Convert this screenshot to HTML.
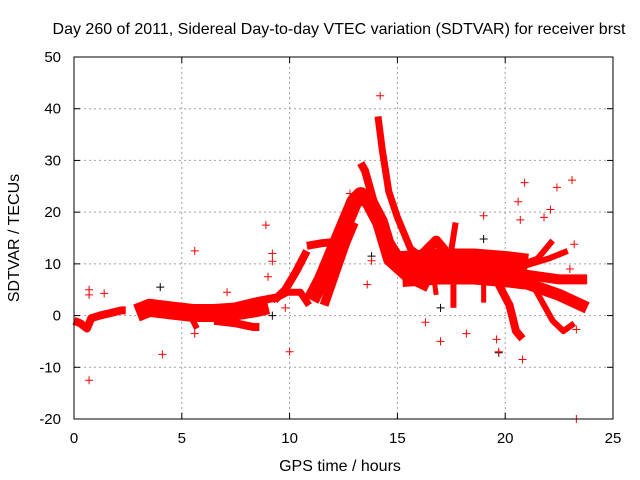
<!DOCTYPE html>
<html><head><meta charset="utf-8"><style>
body{margin:0;background:#fff;}
svg{display:block;font-family:"Liberation Sans",sans-serif;}
</style></head><body>
<svg id="chart" width="640" height="480">
<text x="339" y="34" text-anchor="middle" font-size="16">Day 260 of 2011, Sidereal Day-to-day VTEC variation (SDTVAR) for receiver brst</text>
<text x="340" y="471" text-anchor="middle" font-size="16">GPS time / hours</text>
<text transform="translate(19,238) rotate(-90)" text-anchor="middle" font-size="16">SDTVAR / TECUs</text>
<g id="grid"></g>
<g id="ticks"></g>
<g id="tracks"></g>
<g id="points"></g>
<rect x="74" y="57" width="539" height="362" fill="none" stroke="#000" stroke-width="1"/>
</svg>
<script>
const xTicks=[0,5,10,15,20,25];
const yTicks=[-20,-10,0,10,20,30,40,50];
const tracks=[
[[0,-1],[0.3,-1.5],[0.6,-2.5],[0.8,-0.5],[1.2,0],[1.7,0.5],[2.2,1],[2.4,1]],
[[2.9,0.5],[3.5,1.5],[4.5,1],[5.5,0.5],[6.5,0.5],[7.5,0.8],[8.5,1.5],[9,2]],
[[6.5,-1],[7.5,-1.5],[8.3,-2.2],[8.6,-2.2]],
[[5.4,0],[5.7,-2.5]],
[[7.5,1.8],[8.5,2.8],[9.4,3.5]],
[[9.3,3],[9.8,5],[10.3,8.5],[10.8,12.5]],
[[9.2,3],[9.9,4.5],[10.5,4.5],[10.9,2]],
[[10.8,13.5],[11.5,14],[12,14.2],[12.5,16],[13,20]],
[[11,3],[11.5,7],[12,12],[12.5,17],[13,22],[13.3,23.3],[13.7,22],[14.2,18],[14.7,11],[15.5,8],[16.5,6]],
[[11.6,2],[12.1,8],[12.6,14],[13,18]],
[[13.3,29.5],[13.5,28],[13.9,22],[14.4,16],[15,12],[15.8,10]],
[[14.1,38.5],[14.3,32],[14.6,24],[15,19],[15.6,13],[16.2,11]],
[[15.2,9],[17,9.5],[18.5,9.5],[20,9],[21,8.5]],
[[16.2,12],[16.8,14.5],[17.2,12.5]],
[[17.4,10],[17.7,18]],
[[20.5,9.5],[21.5,11],[22.2,14.5]],
[[20.8,9.5],[22,11],[22.9,12.5]],
[[20.8,8],[22.5,7],[23.8,7]],
[[20.8,6.5],[22.5,4],[23.8,1.5]],
[[21.4,5],[22.2,-1],[22.7,-3],[23.2,-1.5]],
[[19.7,6],[20.2,2],[20.5,-3],[20.8,-4.5]],
[[17.6,6],[17.6,1.5]],
[[19,6],[19,2.5]],
[[16.7,7],[16.8,4]]
];
const trackWidths=[8,18,8,6,8,8,7,8,16,9,8,7,36,10,6,6,6,10,12,6,8,6,5,5];
const redX=[0.7,0.7,0.7,1.4,4.1,5.6,5.6,8.9,9.2,9.2,10,13.6,14.2,17,19,19.7,20.8,20.9,22.4,23.1,23.3,20.6,23.2,9,7.1,12.8,13.8,20.7,23,23.3,19.6,9.8,16.3,18.2,21.8,22.1];
const redY=[-12.5,5,4,4.3,-7.5,12.5,-3.5,17.5,12,10.5,-7,6,42.5,-5,19.3,-7,-8.5,25.7,24.8,26.2,-20,22,13.8,7.5,4.5,23.6,10.6,18.5,9,-2.7,-4.6,1.5,-1.3,-3.5,19,20.5];
const blackX=[4,13.8,17,19.7,19,9.2];
const blackY=[5.5,11.5,1.5,-7.2,14.8,0];
const NS="http://www.w3.org/2000/svg";
const L=74,R=613,T=57,B=419;
const xs=h=>L+(h-0)/25*(R-L);
const ys=v=>B-(v+20)/70*(B-T);
function mk(tag,attrs,parent){const e=document.createElementNS(NS,tag);for(const k in attrs)e.setAttribute(k,attrs[k]);parent.appendChild(e);return e;}
const grid=document.getElementById('grid'),ticks=document.getElementById('ticks');
xTicks.forEach(t=>{
 if(t>0&&t<25){const g=mk('line',{x1:xs(t),x2:xs(t),y1:T,y2:B,stroke:'#a0a0a0','stroke-dasharray':'2,3'},grid);
 
 }
 mk('line',{x1:xs(t),x2:xs(t),y1:B,y2:B-6,stroke:'#000'},ticks);
 mk('line',{x1:xs(t),x2:xs(t),y1:T,y2:T+6,stroke:'#000'},ticks);
 const tx=mk('text',{x:xs(t),y:B+24,'text-anchor':'middle','font-size':'15'},ticks);tx.textContent=t;
 
 
});
yTicks.forEach(t=>{
 if(t>-20&&t<50){const g=mk('line',{x1:L,x2:R,y1:ys(t),y2:ys(t),stroke:'#a0a0a0','stroke-dasharray':'2,3'},grid);
 
 }
 mk('line',{x1:L,x2:L+6,y1:ys(t),y2:ys(t),stroke:'#000'},ticks);
 mk('line',{x1:R,x2:R-6,y1:ys(t),y2:ys(t),stroke:'#000'},ticks);
 const tx=mk('text',{x:L-13,y:ys(t)+5,'text-anchor':'end','font-size':'15'},ticks);tx.textContent=t;
 
 
});
const tg=document.getElementById('tracks');
tracks.forEach((tr,i)=>{
 const p=mk('polyline',{points:tr.map(d=>xs(d[0])+','+ys(d[1])).join(' '),fill:'none',stroke:'#ff0000','stroke-width':trackWidths[i],'stroke-linejoin':'round','stroke-linecap':'butt'},tg);
 
 
});
const pg=document.getElementById('points');
function plus(x,y,c,name){
 const p=mk('path',{d:`M${x-4},${y}h8M${x},${y-4}v8`,stroke:c,'stroke-width':1},pg);
 
 
}
blackX.forEach((h,i)=>plus(xs(h),ys(blackY[i]),'#000','black-point'));
redX.forEach((h,i)=>plus(xs(h),ys(redY[i]),'#ff0000','red-point'));
</script>
</body></html>
